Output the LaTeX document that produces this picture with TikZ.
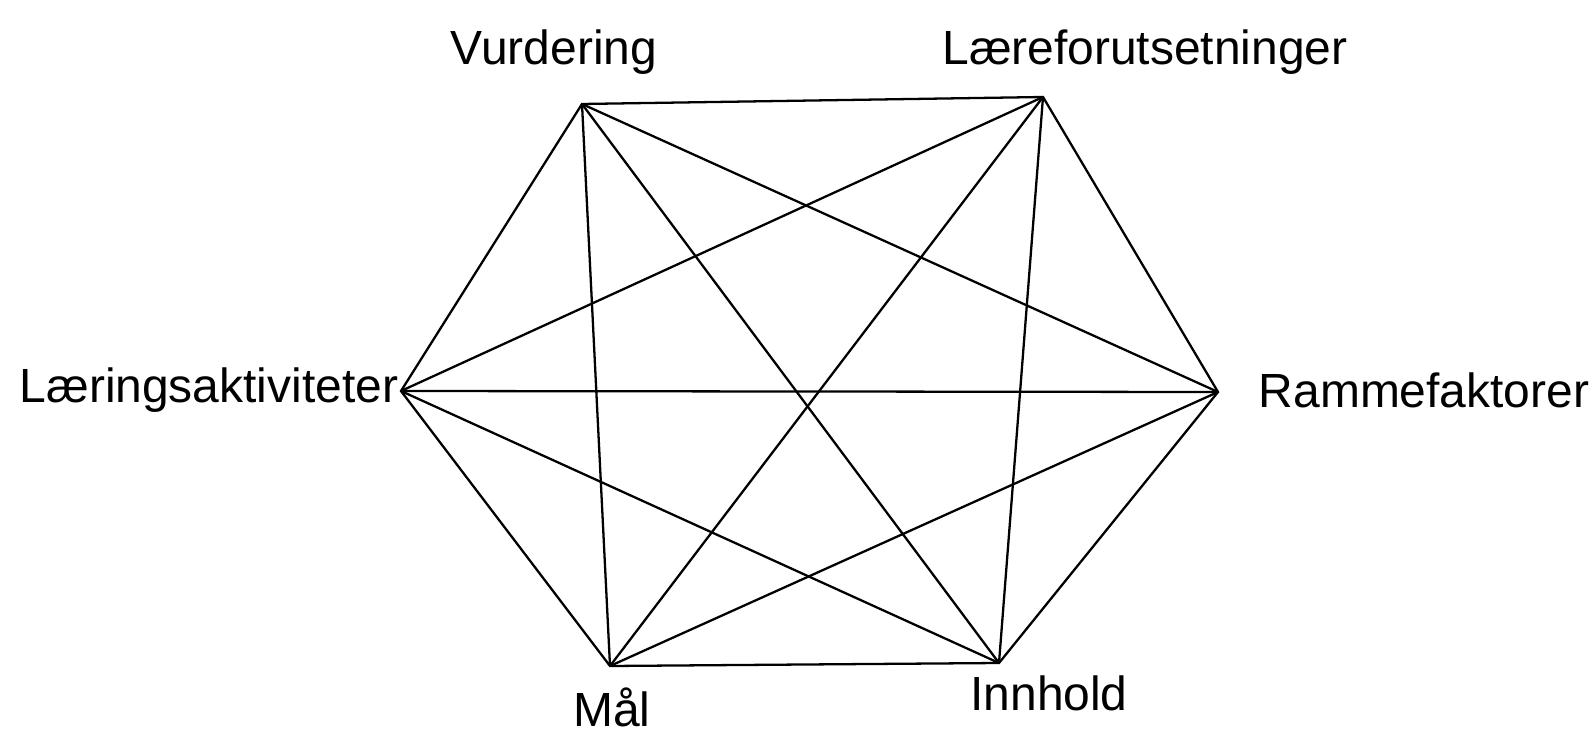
\documentclass[tikz,border=0pt]{standalone}
\usepackage{fontspec}
\setmainfont{Liberation Sans}
\begin{document}
\begin{tikzpicture}[x=0.02cm,y=-0.02cm,line width=1.3pt,
  label/.style={inner sep=0pt,anchor=base,font=\fontsize{27.3}{31}\selectfont}]
\useasboundingbox (0,0) rectangle (1592,733);

\coordinate (vur) at (582,104);
\coordinate (lfo) at (1043,97);
\coordinate (ram) at (1218,392);
\coordinate (inn) at (999,663);
\coordinate (maal) at (610,666);
\coordinate (lak) at (401,391);

\node[label] (tvur) at (554,65) {Vurdering};
\node[label] (tlfo) at (1145,65) {Læreforutsetninger};
\node[label] (tram) at (1424,407) {Rammefaktorer};
\node[label] (tinn) at (1049,710) {Innhold};
\node[label] (tmaal) at (612,726) {Mål};
\node[label] (tlak) at (209,402) {Læringsaktiviteter};

\draw (vur) -- (lfo) -- (ram) -- (inn) -- (maal) -- (lak) -- cycle;
\draw (vur) -- (ram);
\draw (vur) -- (inn);
\draw (vur) -- (maal);
\draw (lfo) -- (inn);
\draw (lfo) -- (maal);
\draw (lfo) -- (lak);
\draw (ram) -- (maal);
\draw (ram) -- (lak);
\draw (inn) -- (lak);
\end{tikzpicture}
\end{document}
